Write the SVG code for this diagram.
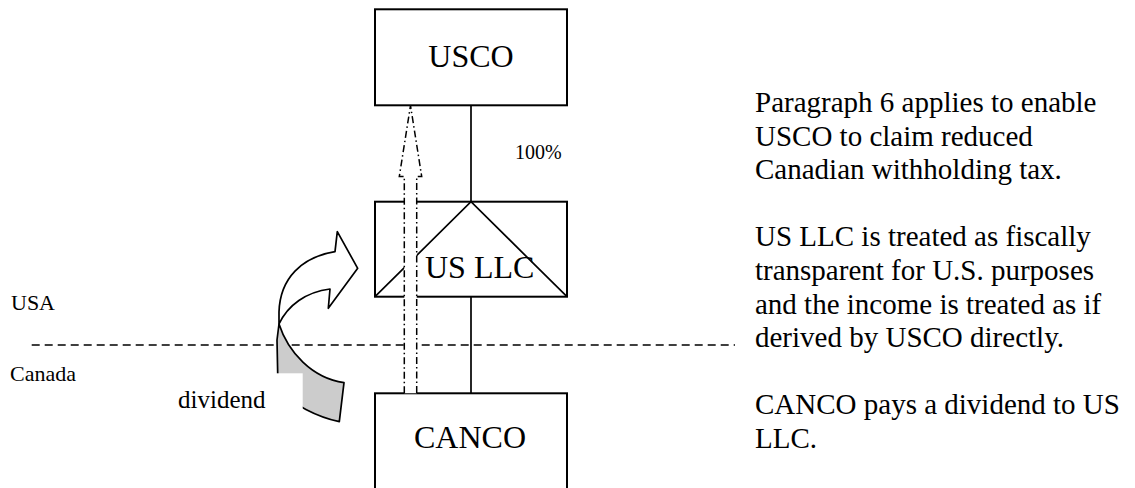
<svg xmlns="http://www.w3.org/2000/svg" width="1135" height="488" viewBox="0 0 1135 488">
<style>
.box{fill:#fff;stroke:#000;stroke-width:2}
.ln{fill:none;stroke:#000;stroke-width:1.7}
.t{font-family:"Liberation Serif","Times New Roman",serif;fill:#000}
.lbl{font-size:32px}
.note{font-size:29px}
</style>
<rect width="1135" height="488" fill="#fff"/>
<g id="connectors">
<line class="ln" x1="471" y1="105.3" x2="471" y2="201.7"/>
<line class="ln" x1="471" y1="296.7" x2="471" y2="393.3"/>
<text class="t" x="515" y="158.5" font-size="20">100%</text>
</g>
<g id="usco">
<rect class="box" x="375" y="9.3" width="192" height="96"/>
<text class="t lbl" x="471" y="67" text-anchor="middle">USCO</text>
</g>
<g id="usllc">
<rect class="box" x="375" y="201.7" width="192" height="95"/>
<polyline class="ln" points="375,296.7 471,201.7 567,296.7"/>
<text class="t lbl" x="425" y="278">US LLC</text>
</g>
<g id="canco">
<rect class="box" x="375" y="393.3" width="192" height="120"/>
<text class="t lbl" x="470" y="448" text-anchor="middle">CANCO</text>
</g>
<g id="border">
<line x1="31.7" y1="345" x2="735" y2="345" stroke="#000" stroke-width="1.5" stroke-dasharray="8 5"/>
<text class="t" x="11" y="310" font-size="22">USA</text>
<text class="t" x="10" y="381" font-size="22">Canada</text>
</g>
<g id="dividend-arrow">
<path d="M279,324 C288,352 312,378 344,382.7 L339.3,421.7 C318,417 292,405 278,388 L277,340 Z" fill="#cccccc" stroke="#000" stroke-width="1.7" stroke-linejoin="round"/>
<path d="M335,251.7 C302,257 280,278 279,312 L279,324 C288,305 306,292 330,289 L328.3,308.3 L357.7,268.3 L337.3,231.7 Z" fill="#fff" stroke="#000" stroke-width="1.7" stroke-linejoin="round"/>
<rect x="170" y="373.3" width="132.7" height="62" fill="#fff"/>
<text class="t" x="178" y="408" font-size="25">dividend</text>
</g>
<g id="flow-arrow">
<path d="M404.3,393.3 L404.3,176.5 L399.3,176.5 L410.5,105.5 L421.7,176.5 L416.7,176.5 L416.7,393.3" fill="#fff" stroke="#000" stroke-width="1.5" stroke-dasharray="7 3 1.5 3"/>
</g>
<g id="notes">
<text class="t note" x="755" y="112">Paragraph 6 applies to enable</text>
<text class="t note" x="755" y="145.6">USCO to claim reduced</text>
<text class="t note" x="755" y="179.2">Canadian withholding tax.</text>
<text class="t note" x="755" y="246.4">US LLC is treated as fiscally</text>
<text class="t note" x="755" y="280">transparent for U.S. purposes</text>
<text class="t note" x="755" y="313.6">and the income is treated as if</text>
<text class="t note" x="755" y="347.2">derived by USCO directly.</text>
<text class="t note" x="755" y="414.4">CANCO pays a dividend to US</text>
<text class="t note" x="755" y="448">LLC.</text>
</g>
</svg>
